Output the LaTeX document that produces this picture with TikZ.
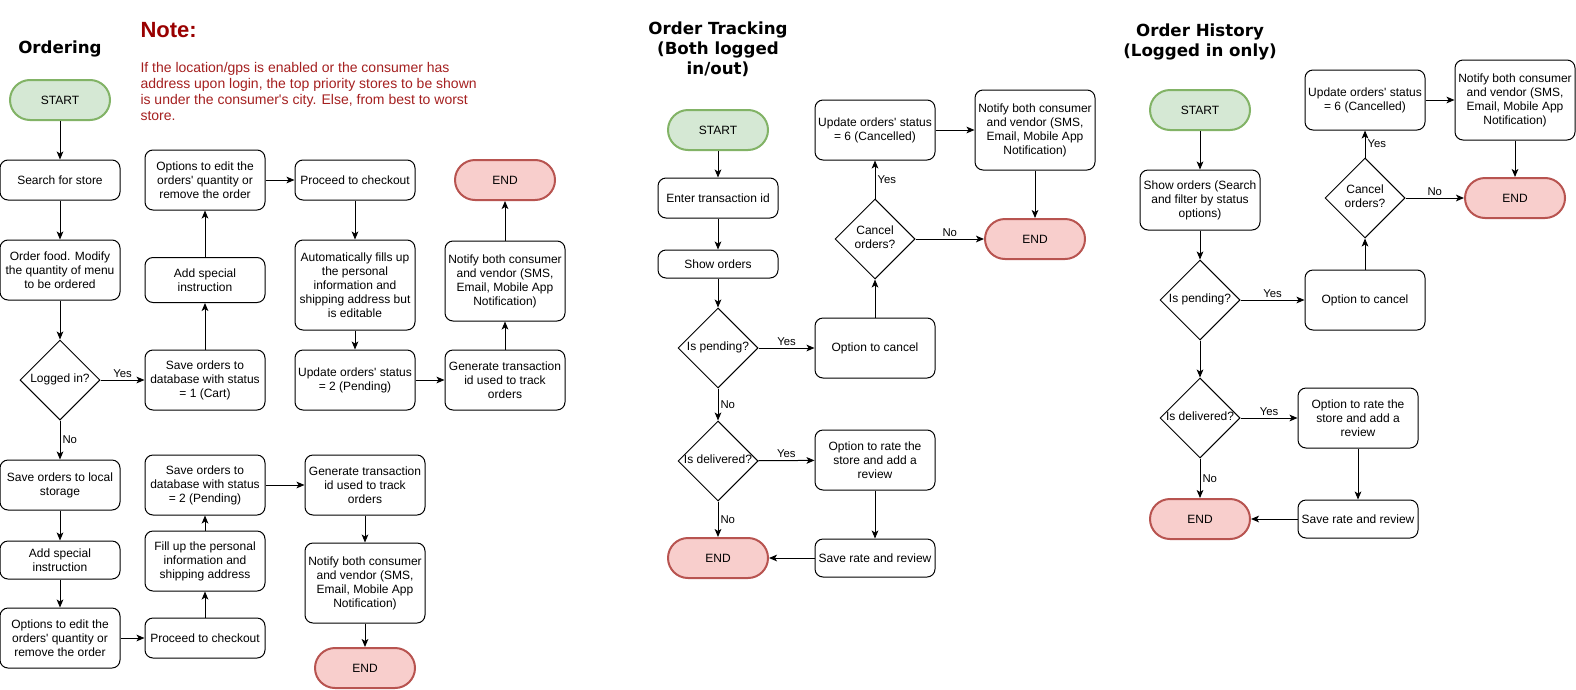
\documentclass[tikz,border=0pt]{standalone}
\usepackage{fontspec}
\setmainfont{Liberation Sans}
\newfontfamily\titlefont{DejaVu Sans}
\usetikzlibrary{shapes.geometric,arrows.meta}

\definecolor{startfill}{RGB}{213,232,212}
\definecolor{startline}{RGB}{130,179,102}
\definecolor{endfill}{RGB}{248,206,204}
\definecolor{endline}{RGB}{184,84,80}
\definecolor{notetitle}{RGB}{153,0,0}
\definecolor{notetext}{RGB}{165,32,32}

\newcommand{\dtxt}[1]{\makebox[0pt]{\begin{tabular}{@{}c@{}}#1\end{tabular}}}
\newcommand{\ap}{\textquotesingle}

\tikzset{every picture/.style={line width=0.75pt}}
\tikzset{
  proc/.style={draw, rounded corners=6pt, minimum width=90pt, minimum height=30pt,
    inner sep=1pt, align=center, font=\fontsize{9}{10.5}\selectfont},
  term/.style={draw, line width=1.5pt, rounded corners=15pt, minimum width=75pt,
    minimum height=30pt, inner sep=1pt, font=\fontsize{9}{10.5}\selectfont},
  startterm/.style={term, fill=startfill, draw=startline},
  endterm/.style={term, fill=endfill, draw=endline},
  decision/.style={draw, diamond, aspect=1, minimum width=60pt, minimum height=60pt,
    inner sep=0pt, font=\fontsize{9}{10.5}\selectfont},
  flow/.style={-{Stealth[length=6pt,width=5pt,inset=1.5pt]}},
  lbl/.style={font=\fontsize{8.5}{9}\selectfont, inner sep=1.5pt},
  ttl/.style={font=\titlefont\bfseries\fontsize{12.5}{15}\selectfont, align=center}
}

\begin{document}
\begin{tikzpicture}[x=0.75pt,y=0.75pt,yscale=-1,xscale=1]
    \path[fill=white, use as bounding box] (0,0) rectangle (1576,689);

    % Titles
    \node[ttl] (ttlorder) at (60,49) {Ordering};
    \node[ttl] (ttltrack) at (718,49) {Order Tracking\\(Both logged\\in/out)};
    \node[ttl] (ttlhist) at (1200,42) {Order History\\(Logged in only)};

    % Note
    \node[anchor=west, inner sep=0pt, text=notetitle, font=\bfseries\fontsize{16.5}{18}\selectfont] (notehead) at (140,30) {Note:};
    \node[anchor=north west, inner sep=0pt, text=notetext, align=left, font=\fontsize{10.5}{12}\selectfont] (notebody) at (140,62)
      {If the location/gps is enabled or the consumer has\\address upon login, the top priority stores to be shown\\is under the consumer\ap s city. Else, from best to worst\\store.};

    % Ordering
    \node[startterm] (ostart) at (60,100) {START};
    \node[proc] (osearch) at (60,180) {Search for store};
    \node[proc, minimum height=45pt] (ofood) at (60,270) {Order food. Modify\\the quantity of menu\\to be ordered};
    \node[decision] (ologin) at (60,380) {\dtxt{Logged in?}};
    \node[proc, minimum height=37.5pt] (olocal) at (60,485) {Save orders to local\\storage};
    \node[proc, minimum height=28.5pt] (ospecb) at (60,560) {Add special\\instruction};
    \node[proc, minimum height=45pt] (oeditb) at (60,638) {Options to edit the\\orders\ap{} quantity or\\remove the order};
    \node[proc, minimum height=45pt] (ocart) at (205,380) {Save orders to\\database with status\\= 1 (Cart)};
    \node[proc, minimum height=33.75pt] (ospect) at (205,280) {Add special\\instruction};
    \node[proc, minimum height=45pt] (oeditt) at (205,180) {Options to edit the\\orders\ap{} quantity or\\remove the order};
    \node[proc] (ocheckt) at (355,180) {Proceed to checkout};
    \node[proc, minimum height=67.5pt] (oauto) at (355,285) {Automatically fills up\\the personal\\information and\\shipping address but\\is editable};
    \node[proc, minimum height=45pt] (oupd) at (355,380) {Update orders\ap{} status\\= 2 (Pending)};
    \node[proc, minimum height=45pt] (ogent) at (505,380) {Generate transaction\\id used to track\\orders};
    \node[proc, minimum height=60pt] (onotit) at (505,281) {Notify both consumer\\and vendor (SMS,\\Email, Mobile App\\Notification)};
    \node[endterm] (oendt) at (505,180) {END};
    \node[proc, minimum height=45pt] (opend) at (205,485) {Save orders to\\database with status\\= 2 (Pending)};
    \node[proc, minimum height=45pt] (ofill) at (205,561) {Fill up the personal\\information and\\shipping address};
    \node[proc] (ocheckb) at (205,638) {Proceed to checkout};
    \node[proc, minimum height=45pt] (ogenb) at (365,485) {Generate transaction\\id used to track\\orders};
    \node[proc, minimum height=60pt] (onotib) at (365,583) {Notify both consumer\\and vendor (SMS,\\Email, Mobile App\\Notification)};
    \node[endterm] (oendb) at (365,668) {END};

    \draw[flow] (ostart) -- (osearch);
    \draw[flow] (osearch) -- (ofood);
    \draw[flow] (ofood) -- (ologin);
    \draw[flow] (ologin) -- node[lbl, above] {Yes} (ocart);
    \draw[flow] (ocart) -- (ospect);
    \draw[flow] (ospect) -- (oeditt);
    \draw[flow] (oeditt) -- (ocheckt);
    \draw[flow] (ocheckt) -- (oauto);
    \draw[flow] (oauto) -- (oupd);
    \draw[flow] (oupd) -- (ogent);
    \draw[flow] (ogent) -- (onotit);
    \draw[flow] (onotit) -- (oendt);
    \draw[flow] (ologin) -- node[lbl, right] {No} (olocal);
    \draw[flow] (olocal) -- (ospecb);
    \draw[flow] (ospecb) -- (oeditb);
    \draw[flow] (oeditb) -- (ocheckb);
    \draw[flow] (ocheckb) -- (ofill);
    \draw[flow] (ofill) -- (opend);
    \draw[flow] (opend) -- (ogenb);
    \draw[flow] (ogenb) -- (onotib);
    \draw[flow] (onotib) -- (oendb);

    % Order tracking
    \node[startterm] (tstart) at (718,130) {START};
    \node[proc] (tenter) at (718,198) {Enter transaction id};
    \node[proc, minimum height=21pt] (tshow) at (718,264) {Show orders};
    \node[decision] (tpend) at (718,348) {\dtxt{Is pending?}};
    \node[decision] (tdeliv) at (718,461) {\dtxt{Is delivered?}};
    \node[endterm] (tendb) at (718,558) {END};
    \node[proc, minimum height=45pt] (tcancelopt) at (875,348) {Option to cancel};
    \node[proc, minimum height=45pt] (trate) at (875,460) {Option to rate the\\store and add a\\review};
    \node[proc, minimum height=28.5pt] (tsave) at (875,558) {Save rate and review};
    \node[decision] (tcancel) at (875,239) {\dtxt{Cancel\\orders?}};
    \node[proc, minimum height=45pt] (tupd) at (875,130) {Update orders\ap{} status\\= 6 (Cancelled)};
    \node[proc, minimum height=60pt] (tnoti) at (1035,130) {Notify both consumer\\and vendor (SMS,\\Email, Mobile App\\Notification)};
    \node[endterm] (tendt) at (1035,239) {END};

    \draw[flow] (tstart) -- (tenter);
    \draw[flow] (tenter) -- (tshow);
    \draw[flow] (tshow) -- (tpend);
    \draw[flow] (tpend) -- node[lbl, above] {Yes} (tcancelopt);
    \draw[flow] (tpend) -- node[lbl, right] {No} (tdeliv);
    \draw[flow] (tdeliv) -- node[lbl, above] {Yes} (trate);
    \draw[flow] (tdeliv) -- node[lbl, right] {No} (tendb);
    \draw[flow] (trate) -- (tsave);
    \draw[flow] (tsave) -- (tendb);
    \draw[flow] (tcancelopt) -- (tcancel);
    \draw[flow] (tcancel) -- node[lbl, right] {Yes} (tupd);
    \draw[flow] (tcancel) -- node[lbl, above] {No} (tendt);
    \draw[flow] (tupd) -- (tnoti);
    \draw[flow] (tnoti) -- (tendt);

    % Order history
    \node[startterm] (hstart) at (1200,110) {START};
    \node[proc, minimum height=45pt] (hshow) at (1200,200) {Show orders (Search\\and filter by status\\options)};
    \node[decision] (hpend) at (1200,300) {\dtxt{Is pending?}};
    \node[decision] (hdeliv) at (1200,418) {\dtxt{Is delivered?}};
    \node[endterm] (hendb) at (1200,519) {END};
    \node[proc, minimum height=45pt] (hcancelopt) at (1365,300) {Option to cancel};
    \node[decision] (hcancel) at (1365,198) {\dtxt{Cancel\\orders?}};
    \node[proc, minimum height=45pt] (hupd) at (1365,100) {Update orders\ap{} status\\= 6 (Cancelled)};
    \node[proc, minimum height=60pt] (hnoti) at (1515,100) {Notify both consumer\\and vendor (SMS,\\Email, Mobile App\\Notification)};
    \node[endterm] (hendt) at (1515,198) {END};
    \node[proc, minimum height=45pt] (hrate) at (1358,418) {Option to rate the\\store and add a\\review};
    \node[proc, minimum height=28.5pt] (hsave) at (1358,519) {Save rate and review};

    \draw[flow] (hstart) -- (hshow);
    \draw[flow] (hshow) -- (hpend);
    \draw[flow] (hpend) -- node[lbl, above] {Yes} (hcancelopt);
    \draw[flow] (hpend) -- (hdeliv);
    \draw[flow] (hcancelopt) -- (hcancel);
    \draw[flow] (hcancel) -- node[lbl, right] {Yes} (hupd);
    \draw[flow] (hcancel) -- node[lbl, above] {No} (hendt);
    \draw[flow] (hupd) -- (hnoti);
    \draw[flow] (hnoti) -- (hendt);
    \draw[flow] (hdeliv) -- node[lbl, above] {Yes} (hrate);
    \draw[flow] (hdeliv) -- node[lbl, right] {No} (hendb);
    \draw[flow] (hrate) -- (hsave);
    \draw[flow] (hsave) -- (hendb);

\end{tikzpicture}
\end{document}
